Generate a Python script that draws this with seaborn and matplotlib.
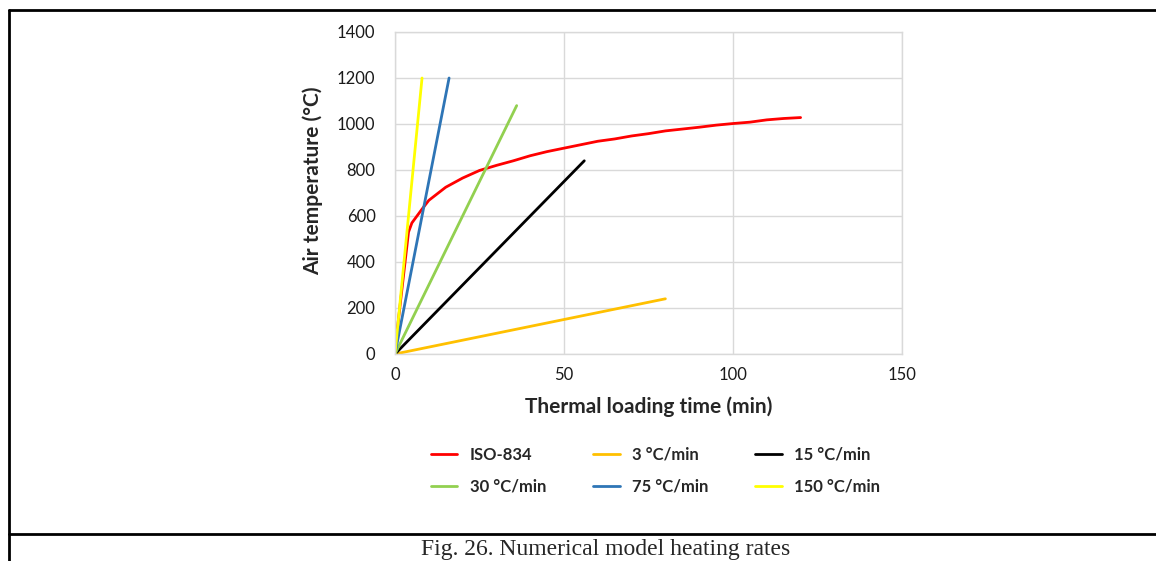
import matplotlib
matplotlib.use("Agg")
import matplotlib.pyplot as plt
from matplotlib.lines import Line2D
import seaborn as sns
import pandas as pd

# ---- data ----
iso_t = [0, 4, 5, 8, 10, 15, 20, 25, 30, 35, 40, 45, 50, 55, 60, 65, 70, 75, 80, 85, 90, 95, 100, 105, 110, 115, 120]
iso_T = [20, 530, 570, 630, 668, 725, 765, 798, 820, 840, 862, 880, 895, 910, 925, 935, 948, 958, 970, 978, 986, 995, 1002, 1008, 1018, 1024, 1028]

r3_t = [0, 10, 20, 30, 40, 50, 60, 70, 80]
r3_T = [0, 30, 60, 90, 120, 150, 180, 210, 240]

r15_t = [0, 14, 28, 42, 56]
r15_T = [0, 210, 420, 630, 840]

r30_t = [0, 12, 24, 36]
r30_T = [0, 360, 720, 1080]

r75_t = [0, 8, 16]
r75_T = [0, 600, 1200]

r150_t = [0, 4, 8]
r150_T = [0, 600, 1200]

series_names = ["ISO-834", "3 °C/min", "15 °C/min", "30 °C/min", "75 °C/min", "150 °C/min"]
series_t = [iso_t, r3_t, r15_t, r30_t, r75_t, r150_t]
series_T = [iso_T, r3_T, r15_T, r30_T, r75_T, r150_T]
colors = ["#FF0000", "#FFC000", "#000000", "#92D050", "#2E75B6", "#FFFF00"]

x_ticks = [0, 50, 100, 150]
y_ticks = [0, 200, 400, 600, 800, 1000, 1200, 1400]

frames = []
for name, t, T in zip(series_names, series_t, series_T):
    frames.append(pd.DataFrame({"time": t, "temp": T, "series": name}))
df = pd.concat(frames, ignore_index=True)

sns.set_style("white")
plt.rcParams["font.family"] = ["Lato", "DejaVu Sans"]

fig = plt.figure(figsize=(11.56, 5.61), dpi=100)
ax = fig.add_axes([395 / 1156, 1 - 354 / 561, (902 - 395) / 1156, (354 - 32) / 561])

palette = dict(zip(series_names, colors))
sns.lineplot(data=df, x="time", y="temp", hue="series", palette=palette,
             hue_order=series_names, sort=False, estimator=None,
             linewidth=2.0, ax=ax, legend=False)

ax.set_xlim(0, 150)
ax.set_ylim(0, 1400)
ax.set_xticks(x_ticks)
ax.set_yticks(y_ticks)
ax.tick_params(axis="both", length=0, labelsize=12, colors="#1a1a1a")
ax.tick_params(axis="x", pad=9)
ax.tick_params(axis="y", pad=14)
ax.grid(True, color="#D9D9D9", linewidth=1)
ax.set_axisbelow(True)
for sp in ax.spines.values():
    sp.set_color("#D9D9D9")
    sp.set_linewidth(1)

ax.set_xlabel("Thermal loading time (min)", fontsize=15, fontweight="bold", labelpad=10)
ax.set_ylabel("Air temperature (°C)", fontsize=15, fontweight="bold")
ax.yaxis.set_label_coords((323 - 395) / 507, (354 - 181) / 322)

# legend (row-wise order as in reference, matplotlib fills columns)
handles = {n: Line2D([0], [0], color=c, lw=2.0) for n, c in zip(series_names, colors)}
order = ["ISO-834", "30 °C/min", "3 °C/min", "75 °C/min", "15 °C/min", "150 °C/min"]
leg = fig.legend([handles[n] for n in order], order, ncol=3, loc="center",
                 bbox_to_anchor=(655.5 / 1156, 1 - 470.5 / 561), frameon=False,
                 prop={"weight": "bold", "size": 12},
                 handlelength=1.6, handletextpad=0.75, columnspacing=2.8,
                 labelspacing=0.95)

# table-like border lines
lw = 2.0
fig.add_artist(Line2D([9 / 1156, 1.0], [1 - 10 / 561, 1 - 10 / 561], color="black", lw=lw))
fig.add_artist(Line2D([9 / 1156, 9 / 1156], [1 - 10 / 561, 0.0], color="black", lw=lw))
fig.add_artist(Line2D([9 / 1156, 1.0], [1 - 534 / 561, 1 - 534 / 561], color="black", lw=lw))

fig.text(606 / 1156, 1 - 549 / 561, "Fig. 26. Numerical model heating rates",
         family="Liberation Serif", fontsize=17, ha="center", va="center")

fig.savefig("out.png", dpi=100)
